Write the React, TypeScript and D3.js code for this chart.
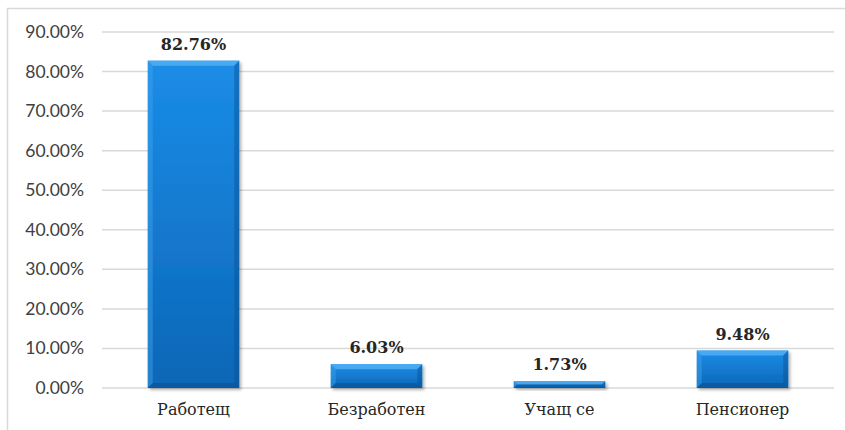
import React from "react";
import * as d3 from "d3";

const categories = ["Работещ", "Безработен", "Учащ се", "Пенсионер"];
const values = [82.76, 6.03, 1.73, 9.48];
const yTicks = [0, 10, 20, 30, 40, 50, 60, 70, 80, 90];

const W = 845;
const H = 430;
const margin = { left: 102, right: 11, top: 32, bottom: 42 };

export default function App() {
  const x = d3
    .scaleBand<string>()
    .domain(categories)
    .range([margin.left, W - margin.right])
    .paddingInner(0.5)
    .paddingOuter(0.25);
  const y = d3.scaleLinear().domain([0, 90]).range([H - margin.bottom, margin.top]);
  const bw = x.bandwidth();
  const bev = 5;

  return (
    <svg width={W} height={H} style={{ position: "absolute", left: 0, top: 0, background: "#fff" }}>
      <defs>
        <linearGradient id="barG" x1="0" y1="0" x2="0" y2="1">
          <stop offset="0" stopColor="#1b8de8" />
          <stop offset="1" stopColor="#0c66b6" />
        </linearGradient>
        <filter id="sh" x="-20%" y="-20%" width="150%" height="150%">
          <feDropShadow dx="2" dy="2" stdDeviation="1.5" floodColor="#000" floodOpacity="0.3" />
        </filter>
      </defs>
      <rect x={7.5} y={8.5} width={W} height={H} fill="none" stroke="#d9d9d9" strokeWidth={1.5} />
      {yTicks.map((t) => (
        <g key={t}>
          <line x1={margin.left} x2={W - margin.right} y1={y(t)} y2={y(t)} stroke="#d9d9d9" strokeWidth={1.5} />
          <text
            x={84}
            y={y(t) + 6}
            textAnchor="end"
            fontFamily="Lato, 'Open Sans', sans-serif"
            fontSize={17.5}
            fill="#404040"
          >
            {t.toFixed(2) + "%"}
          </text>
        </g>
      ))}
      {categories.map((c, i) => {
        const x0 = x(c)!;
        const y0 = y(values[i]);
        const y1 = y(0);
        const h = y1 - y0;
        const b = Math.min(bev, h / 2);
        return (
          <g key={c}>
            <rect x={x0} y={y0} width={bw} height={h} fill="url(#barG)" filter="url(#sh)" />
            <polygon
              points={`${x0},${y0} ${x0 + bw},${y0} ${x0 + bw - b},${y0 + b} ${x0 + b},${y0 + b}`}
              fill="#5cb6f7"
              opacity={0.7}
            />
            <polygon
              points={`${x0},${y0} ${x0 + b},${y0 + b} ${x0 + b},${y1 - b} ${x0},${y1}`}
              fill="#3fa3ee"
              opacity={0.45}
            />
            <polygon
              points={`${x0 + bw},${y0} ${x0 + bw - b},${y0 + b} ${x0 + bw - b},${y1 - b} ${x0 + bw},${y1}`}
              fill="#0a4f8f"
              opacity={0.45}
            />
            <polygon
              points={`${x0},${y1} ${x0 + b},${y1 - b} ${x0 + bw - b},${y1 - b} ${x0 + bw},${y1}`}
              fill="#084a86"
              opacity={0.45}
            />
            <text
              x={x0 + bw / 2}
              y={y0 - 11}
              textAnchor="middle"
              fontFamily="'DejaVu Serif', serif"
              fontWeight="bold"
              fontSize={16}
              fill="#262626"
            >
              {values[i].toFixed(2) + "%"}
            </text>
            <text
              x={x0 + bw / 2}
              y={415}
              textAnchor="middle"
              fontFamily="'DejaVu Serif', serif"
              fontSize={16}
              fill="#262626"
            >
              {c}
            </text>
          </g>
        );
      })}
    </svg>
  );
}
